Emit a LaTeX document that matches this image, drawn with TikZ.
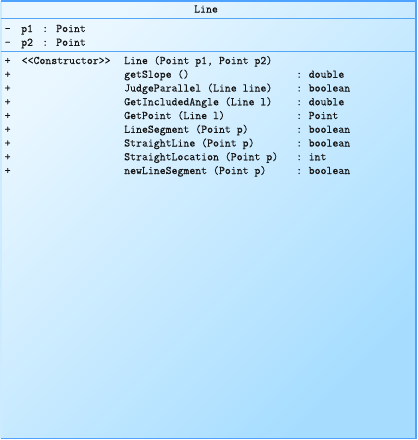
\documentclass[tikz,border=0pt]{standalone}
\usepackage{fontspec}
\newfontfamily\umlmono[FakeBold=0.3]{Latin Modern Mono}
\definecolor{bgtop}{HTML}{EAF7FF}
\definecolor{bgbot}{HTML}{A6DDFF}
\definecolor{edge}{HTML}{4DA3FF}
\definecolor{edgelight}{HTML}{CDEBFF}
\definecolor{sepc}{HTML}{52A6F5}
\definecolor{textc}{HTML}{151515}
\begin{document}
\begin{tikzpicture}[x=1pt,y=-1pt,
  txt/.style={anchor=base west, inner sep=0pt, font=\fontsize{11.5}{13}\umlmono, text=textc},
  ctxt/.style={anchor=base, inner sep=0pt, font=\fontsize{11.5}{13}\umlmono, text=textc},
  sepline/.style={draw=sepc, line width=1.5pt}]
\useasboundingbox (0,0) rectangle (418,440);
\shade[shading=axis, top color=bgtop, bottom color=bgbot, shading angle=45] (0.75,0.75) rectangle (415.75,438.25);
% borders
\coordinate (tl) at (0.75,0.75);
\coordinate (tr) at (415.75,0.75);
\coordinate (br) at (415.75,438.25);
\coordinate (bl) at (0.75,438.25);
\draw[edgelight, line width=1.5pt] (tl) -- (bl);
\draw[edge, line width=1.5pt] (bl) -- (br) -- (tr) -- (tl);
% separators
\coordinate (s1l) at (0.75,18.7);
\coordinate (s1r) at (415.75,18.7);
\coordinate (s2l) at (0.75,51.3);
\coordinate (s2r) at (415.75,51.3);
\draw[sepline] (s1l) -- (s1r);
\draw[sepline] (s2l) -- (s2r);
% title
\node[ctxt] (title) at (206,12.5) {Line};
% attributes
\node[txt] (a1v) at (4.5,32) {-};
\node[txt] (a1n) at (21,32) {p1};
\node[txt] (a1c) at (42,32) {:};
\node[txt] (a1t) at (56,32) {Point};
\node[txt] (a2v) at (4.5,45.75) {-};
\node[txt] (a2n) at (21,45.75) {p2};
\node[txt] (a2c) at (42,45.75) {:};
\node[txt] (a2t) at (56,45.75) {Point};
% methods
\node[txt] (ster) at (21.5,64) {<{}<Constructor>{}>};
\foreach \i/\nm/\ty in {0/{Line (Point p1, Point p2)}/{},
  1/{getSlope ()}/{double},
  2/{JudgeParallel (Line line)}/{boolean},
  3/{GetIncludedAngle (Line l)}/{double},
  4/{GetPoint (Line l)}/{Point},
  5/{LineSegment (Point p)}/{boolean},
  6/{StraightLine (Point p)}/{boolean},
  7/{StraightLocation (Point p)}/{int},
  8/{newLineSegment (Point p)}/{boolean}} {
  \node[txt] (v\i) at (4.5,64+13.75*\i) {+};
  \node[txt] (m\i) at (124,64+13.75*\i) {\nm};
  \ifx\ty\empty\else
    \node[txt] (c\i) at (296,64+13.75*\i) {:};
    \node[txt] (t\i) at (308.5,64+13.75*\i) {\ty};
  \fi
}
\end{tikzpicture}
\end{document}
